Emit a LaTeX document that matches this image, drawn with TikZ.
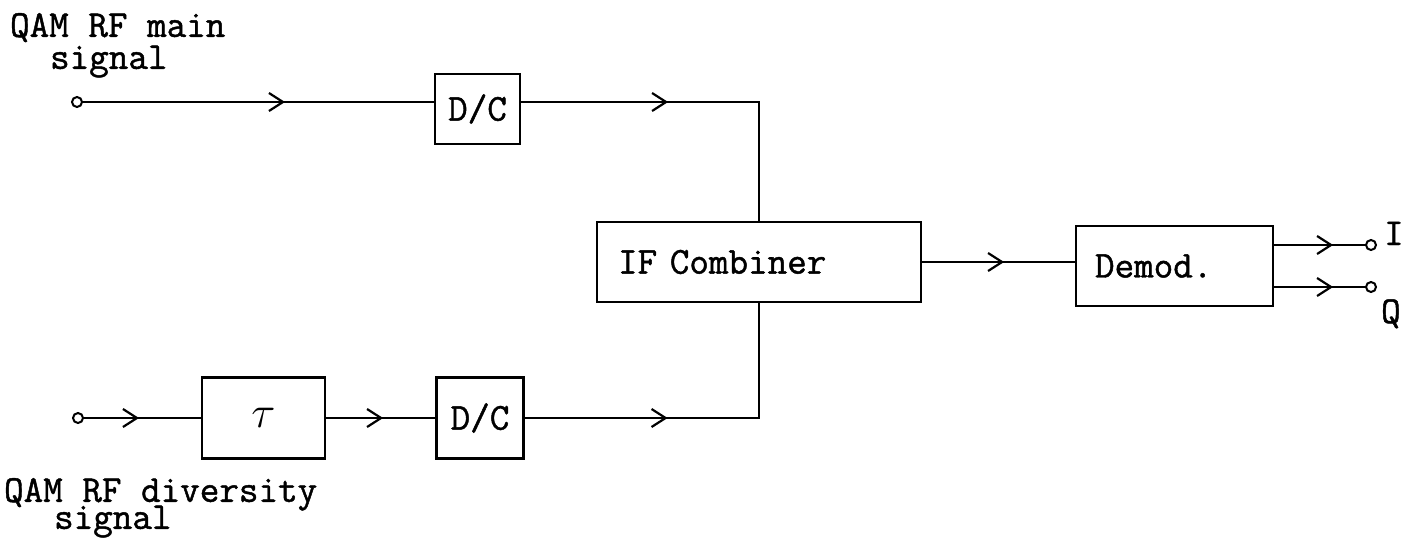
\documentclass[tikz,border=0pt]{standalone}
\usepackage{fontspec}
\usepackage{graphicx}
\newfontfamily\twfont{Latin Modern Mono}[FakeBold=1.2]
\usetikzlibrary{arrows.meta,decorations.markings}
\begin{document}
\begin{tikzpicture}[x=1pt,y=-1pt,
  line width=2.2pt,
  txt/.style={font=\fontsize{38}{32}\selectfont\twfont},
  lbl/.style={txt, inner sep=0pt, anchor=base west},
  lbltwo/.style={txt, inner sep=0pt, anchor=north west, align=left},
  blk/.style={draw, line width=2.2pt, txt, inner sep=0pt},
  term/.style={circle, draw, minimum size=10pt, inner sep=0pt, line width=2pt},
  midarr/.style={decoration={markings, mark=at position #1 with {\arrow{Straight Barb[length=14pt,width=18pt,line width=2.2pt]}}}, postaction={decorate}},
]
\useasboundingbox (0,0) rectangle (1405,541);

% blocks
\node[blk, minimum width=85pt, minimum height=70pt] (dc1) at (477.5,109) {D/C};
\node[blk, minimum width=123pt, minimum height=81pt] (tau) at (263.5,418) {\scalebox{1.8}{$\tau$}};
\node[blk, minimum width=87pt, minimum height=81pt] (dc2) at (480,418) {D/C};
\node[blk, minimum height=80pt, text width=282pt, align=left, inner xsep=21pt] (ifc) at (759,262) {IF Combiner};
\node[blk, minimum height=80pt, text width=159pt, align=left, inner xsep=19pt] (dem) at (1174.5,266) {Demod.};

% terminals
\node[term] (inA) at (77,102) {};
\node[term] (inB) at (78,418) {};
\node[term] (oI) at (1371,245) {};
\node[term] (oQ) at (1371,287) {};

% labels
\node[lbltwo] (lblA) at (9,12) {QAM RF main\\\hspace*{40pt}signal};
\node[lbltwo] (lblB) at (3,477) {QAM RF diversity\\[-5pt]\hspace*{50pt}signal};
\node[lbl] (lI) at (1383,245) {I};
\node[lbl] (lQ) at (1380,323) {Q};

% connectors
\draw[midarr=202pt] (inA) -- (inA -| dc1.west);
\draw[midarr=147pt] (dc1.east |- inA) -| (ifc.north);
\draw[midarr=55pt] (inB) -- (tau);
\draw[midarr=57pt] (tau) -- (dc2);
\draw[midarr=143pt] (dc2) -| (ifc.south);
\draw[midarr=82pt] (ifc.east) -- (ifc.east -| dem.west);
\draw[midarr=59pt] (oI -| dem.east) -- (oI);
\draw[midarr=59pt] (oQ -| dem.east) -- (oQ);
\end{tikzpicture}
\end{document}
